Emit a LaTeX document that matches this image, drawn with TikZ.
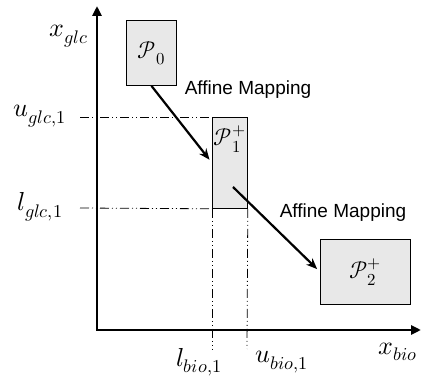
\documentclass[tikz,border=0pt]{standalone}
\usepackage{fontspec}
\usepackage{unicode-math}
\setsansfont{Liberation Sans}
\setmathfont{Latin Modern Math}
\usetikzlibrary{arrows.meta}

\begin{document}
\begin{tikzpicture}[x=1pt, y=-1pt,
  region/.style={draw, fill=gray!18, line width=0.8pt, inner sep=0pt, anchor=north west,
    font=\fontsize{24}{28}\selectfont},
  axis/.style={line width=2.6pt, {Triangle[length=10pt,width=9pt]}-{Triangle[length=10pt,width=9pt]}},
  bound/.style={line width=0.8pt, dash pattern=on 9pt off 3pt on 1pt off 3pt on 1pt off 3pt},
  map/.style={line width=2.2pt, -{Stealth[length=11pt,width=9pt]}},
  lbl/.style={font=\fontsize{26}{30}\selectfont, inner sep=0pt},
  txt/.style={font=\sffamily\fontsize{19}{22}\selectfont, inner sep=0pt}
]
\useasboundingbox (0,0) rectangle (421,382);

% axes
\coordinate (o) at (97,330);
\coordinate (ytop) at (97,6);
\coordinate (xend) at (421,330);
\draw[axis] (ytop) -- (o) -- (xend);
\node[lbl] (xglc) at (69,36) {$x_{glc}$};
\node[lbl, anchor=west] (xbio) at (378,352) {$x_{bio}$};

% polytopes
\node[region, minimum width=50pt, minimum height=65pt] (p0) at (126,20) {$\mathcal{P}_0$};
\node[region, minimum width=35pt, minimum height=91pt] (p1) at (212,117) {};
\node[font=\fontsize{24}{28}\selectfont, inner sep=0pt] at ([yshift=-22pt]p1.north) {$\mathcal{P}_1^+$};
\node[region, minimum width=90pt, minimum height=65pt] (p2) at (320,239) {$\mathcal{P}_2^+$};

% bounds of P1
\node[lbl] (uglc) at (40,116) {$u_{glc,1}$};
\node[lbl] (lglc) at (40,207) {$l_{glc,1}$};
\node[lbl] (lbio) at (199,362) {$l_{bio,1}$};
\node[lbl] (ubio) at (282,362) {$u_{bio,1}$};
\coordinate (ustart) at (80,117);
\coordinate (lstart) at (80,208);
\coordinate (lend) at (212,349);
\coordinate (uend) at (247,349);
\draw[bound] (ustart) -- (p1.north west);
\draw[bound] (lstart) -- (p1.south west);
\draw[bound] (p1.south west) -- (lend);
\draw[bound] (p1.south east) -- (uend);

% mappings
\draw[map, shorten >=4pt] (p0.south) -- (p1.west);
\coordinate (m2) at (233,187);
\draw[map, shorten >=4pt] (m2) -- (p2.west);
\node[txt] (aff1) at (248,90) {Affine Mapping};
\node[txt] (aff2) at (343,213) {Affine Mapping};
\end{tikzpicture}
\end{document}
